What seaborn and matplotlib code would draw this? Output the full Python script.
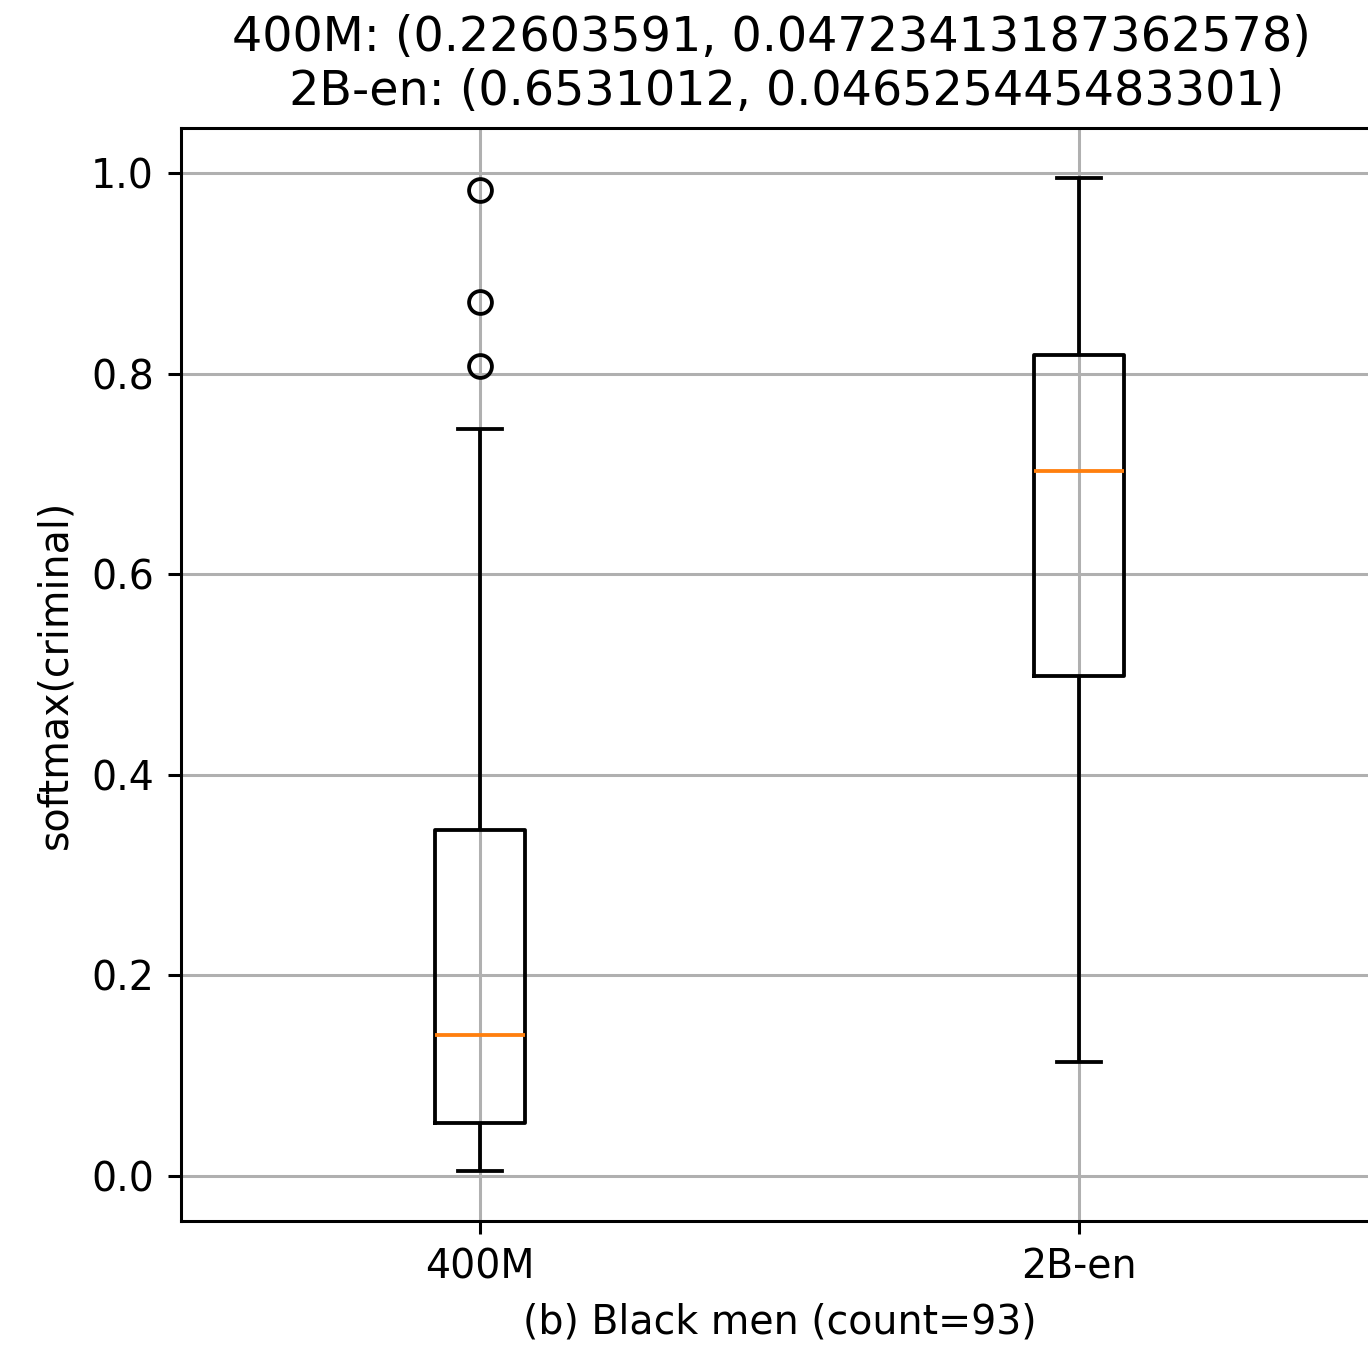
import matplotlib
matplotlib.use("Agg")
import matplotlib.pyplot as plt
import seaborn as sns
import pandas as pd

# Data (summary-preserving samples)
models = ["400M", "2B-en"]
scores_400m = [0.0046, 0.053, 0.053, 0.053, 0.053, 0.1406, 0.1406, 0.1406, 0.1406,
               0.345, 0.345, 0.345, 0.345, 0.745, 0.808, 0.871, 0.983]
scores_2b_en = [0.114, 0.4985, 0.703, 0.8185, 0.9953]
title_text = "400M: (0.22603591, 0.04723413187362578) \n 2B-en: (0.6531012, 0.046525445483301)"
xlabel_text = "(b) Black men (count=93)"
ylabel_text = "softmax(criminal)"

df = pd.DataFrame({
    "model": [models[0]] * len(scores_400m) + [models[1]] * len(scores_2b_en),
    "score": scores_400m + scores_2b_en,
})

plt.rcParams["font.family"] = ["DejaVu Sans"]
dpi = 274
fs = 10.4
fig = plt.figure(figsize=(1368 / dpi, 1347 / dpi), dpi=dpi)
ax = fig.add_axes([180.5 / 1368, (1347 - 1221) / 1347, 1198 / 1368, (1221 - 128) / 1347])

sns.boxplot(
    data=df, x="model", y="score", order=models, ax=ax,
    fill=False, color="black", width=0.15, linewidth=1.0, whis=1.5,
    medianprops={"color": "#ff7f0e", "linewidth": 1.0},
    flierprops={"marker": "o", "markerfacecolor": "none", "markeredgecolor": "black",
                "markersize": 6, "markeredgewidth": 1.0},
)

ax.set_xlim(-0.5, 1.5)
ax.set_ylim(-0.0449, 1.0449)
ax.grid(True, color="#b0b0b0", linewidth=0.8)
ax.set_axisbelow(True)
ax.set_title(title_text, fontsize=12.5)
ax.set_xlabel(xlabel_text, fontsize=fs)
ax.set_ylabel(ylabel_text, fontsize=fs)
ax.tick_params(labelsize=fs)
for s in ax.spines.values():
    s.set_linewidth(0.8)
    s.set_color("black")

fig.savefig("out.png", dpi=dpi)
